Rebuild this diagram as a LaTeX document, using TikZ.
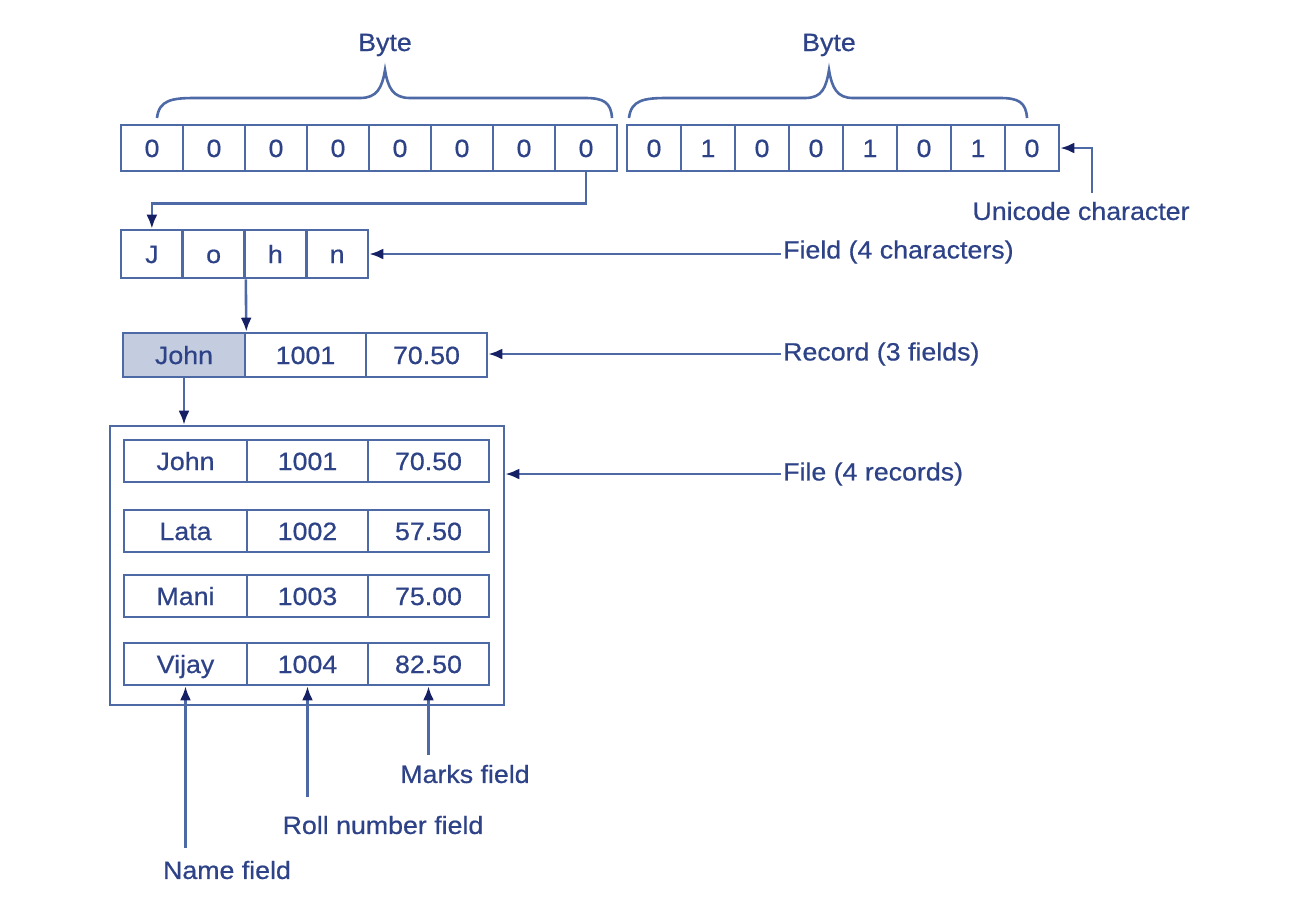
\documentclass[tikz,border=0pt]{standalone}
\usepackage{fontspec}
\setmainfont{Liberation Sans}[FakeStretch=1.07,FakeBold=0.6]
\usetikzlibrary{arrows.meta}
\definecolor{lc}{RGB}{78,106,166}
\definecolor{tc}{RGB}{45,66,135}
\definecolor{ac}{RGB}{22,32,100}
\definecolor{sh}{RGB}{196,205,224}
\tikzset{
  cell/.style={draw=lc, line width=2.6pt, text=tc, inner sep=0pt, text height=18pt, text depth=0pt, font=\fontsize{25}{30}\selectfont},
  lbl/.style={text=tc, inner sep=2pt, font=\fontsize{25}{30}\selectfont},
  conn/.style={draw=lc, line width=2.6pt},
  arr/.style={conn, -{Latex[length=14pt,width=11pt,color=ac]}},
}
\begin{document}
\begin{tikzpicture}[x=1pt,y=-1pt]
\useasboundingbox (0,0) rectangle (1308,914);
% first byte
\foreach \v [count=\i] in {0,0,0,0,0,0,0,0}{
  \node[cell, minimum width=62pt, minimum height=46pt] (a\i) at ({121+31+62*(\i-1)},148) {\v};
}
% second byte
\foreach \v [count=\i] in {0,1,0,0,1,0,1,0}{
  \node[cell, minimum width=54pt, minimum height=46pt] (b\i) at ({627+27+54*(\i-1)},148) {\v};
}
% braces
\draw[conn] (157,118) .. controls (159,100) and (172,98) .. (195,98) -- (360,98)
  .. controls (377,98) and (382,88) .. (385,70) .. controls (388,88) and (393,98) .. (410,98)
  -- (585,98) .. controls (603,98) and (611,102) .. (612,118);
\draw[conn] (629,118) .. controls (631,100) and (644,98) .. (667,98) -- (805,98)
  .. controls (822,98) and (826,88) .. (829,70) .. controls (832,88) and (837,98) .. (853,98)
  -- (1000,98) .. controls (1018,98) and (1026,102) .. (1027,118);
\node[lbl] (byte1) at (385,45) {Byte};
\node[lbl] (byte2) at (829,45) {Byte};
% unicode label
\node[lbl] (uclbl) at (1081,211) {Unicode character};
\coordinate (ucs) at (1092,193);
\draw[arr] (ucs) |- (b8.east);
% John characters
\foreach \v [count=\i] in {J,o,h,n}{
  \node[cell, minimum width=61.75pt, minimum height=48pt] (c\i) at ({121+30.875+61.75*(\i-1)},254) {\v};
}
\draw[arr] (a8.south) -- ++(0,31) -| (c1.north);
\node[lbl, anchor=west] (fieldlbl) at (781,252) {Field (4 characters)};
\draw[arr] (fieldlbl.west |- c4.east) -- (c4.east);
% record
\node[cell, fill=sh, minimum width=122pt, minimum height=44pt] (r1) at (184,355) {John};
\node[cell, minimum width=121pt, minimum height=44pt] (r2) at (305.5,355) {1001};
\node[cell, minimum width=121pt, minimum height=44pt] (r3) at (426.5,355) {70.50};
\draw[arr] (c2.south east) -- (r1.north east);
\node[lbl, anchor=west] (reclbl) at (781,354) {Record (3 fields)};
\draw[arr] (reclbl.west) -- (reclbl.west -| r3.east);
% file
\node[draw=lc, line width=2.6pt, minimum width=394pt, minimum height=279pt, inner sep=0pt] (file) at (307,565.5) {};
\draw[arr] (r1.south) -- (r1.south |- file.north);
\node[lbl, anchor=west] (filelbl) at (781,474) {File (4 records)};
\draw[arr] (filelbl.west) -- (filelbl.west -| file.east);
\foreach \n/\r/\m/\y [count=\k] in {John/1001/70.50/461, Lata/1002/57.50/531, Mani/1003/75.00/596, Vijay/1004/82.50/664}{
  \node[cell, minimum width=123pt, minimum height=42pt] (f\k n) at (185.5,\y) {\n};
  \node[cell, minimum width=121pt, minimum height=42pt] (f\k r) at (307.5,\y) {\r};
  \node[cell, minimum width=121pt, minimum height=42pt] (f\k m) at (428.5,\y) {\m};
}
% field labels
\node[lbl] (marklbl) at (465,774) {Marks field};
\node[lbl] (rolllbl) at (383,825) {Roll number field};
\node[lbl] (namelbl) at (227,870) {Name field};
\coordinate (mfs) at (f4m.south |- 0,755);
\coordinate (rfs) at (f4r.south |- 0,797);
\coordinate (nfs) at (f4n.south |- 0,848);
\draw[arr] (mfs) -- (f4m.south);
\draw[arr] (rfs) -- (f4r.south);
\draw[arr] (nfs) -- (f4n.south);
\end{tikzpicture}
\end{document}
